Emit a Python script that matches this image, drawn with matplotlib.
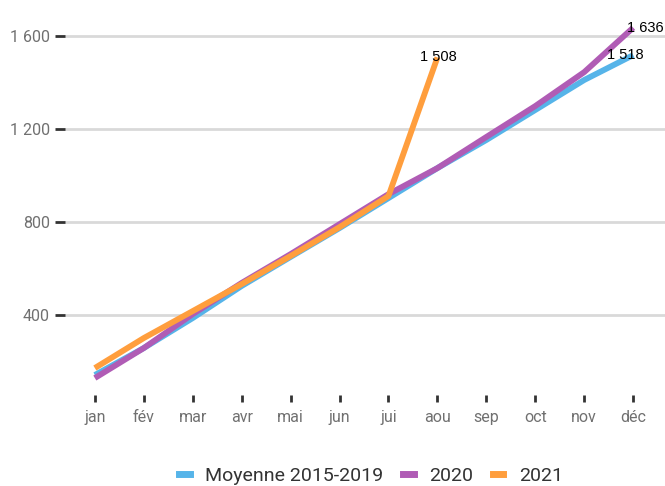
import matplotlib.pyplot as plt
from matplotlib.lines import Line2D
from matplotlib.ticker import FuncFormatter

months = ['jan', 'fév', 'mar', 'avr', 'mai', 'jun', 'jui', 'aou', 'sep', 'oct', 'nov', 'déc']
moyenne = [142, 258, 387, 525, 650, 774, 903, 1032, 1153, 1282, 1411, 1518]
y2020 = [129, 258, 404, 538, 662, 791, 920, 1032, 1166, 1299, 1445, 1636]
y2021 = [172, 301, 417, 533, 654, 778, 912, 1508]
yticks = [400, 800, 1200, 1600]

c_moy = '#56b4e9'
c_20 = '#b05cb5'
c_21 = '#ff9e3d'

plt.rcParams['font.family'] = ['Roboto', 'DejaVu Sans']

fig = plt.figure(figsize=(6.65, 4.86), dpi=100)
ax = fig.add_axes([65 / 665, 1 - 395 / 486, 600 / 665, 375 / 486])

x = list(range(len(months)))
ax.plot(x, moyenne, color=c_moy, lw=4.2, solid_capstyle='butt')
ax.plot(x, y2020, color=c_20, lw=4.2, solid_capstyle='butt')
ax.plot(x[:len(y2021)], y2021, color=c_21, lw=4.2, solid_capstyle='butt')

# étiquettes des dernières valeurs
lab = dict(fontsize=10.5, color='black', family=['Liberation Sans', 'DejaVu Sans'],
           va='center', ha='center', textcoords='offset pixels')
ax.annotate(f'{y2021[-1]:,}'.replace(',', ' '), (len(y2021) - 1, y2021[-1]), xytext=(1, 0), **lab)
ax.annotate(f'{y2020[-1]:,}'.replace(',', ' '), (11, y2020[-1]), xytext=(12, 0), **lab)
ax.annotate(f'{moyenne[-1]:,}'.replace(',', ' '), (11, moyenne[-1]), xytext=(-8, 0), **lab)

ax.set_xlim(-0.61, 11.65)
ax.set_ylim(56, 1669)
ax.set_xticks(x)
ax.set_xticklabels(months)
ax.set_yticks(yticks)
ax.yaxis.set_major_formatter(FuncFormatter(lambda v, p: f'{int(v):,}'.replace(',', ' ')))
ax.grid(axis='y', color='#d9d9d9', lw=2)
ax.set_axisbelow(True)
for s in ax.spines.values():
    s.set_visible(False)
ax.tick_params(axis='x', length=5, width=2, color='#333333', labelcolor='#707070',
               labelsize=11.5, pad=6)
ax.tick_params(axis='y', length=7, width=2, color='#333333', labelcolor='#707070',
               labelsize=11.5, pad=4)

handles = [Line2D([], [], color=c, lw=5) for c in (c_moy, c_20, c_21)]
fig.legend(handles, ['Moyenne 2015-2019', '2020', '2021'], loc='center',
           bbox_to_anchor=(0.558, 1 - 476 / 486), ncol=3, frameon=False,
           fontsize=14, handlelength=0.55, handletextpad=0.8, columnspacing=1.0,
           labelcolor='#333333')

fig.savefig('out.png', dpi=100)
